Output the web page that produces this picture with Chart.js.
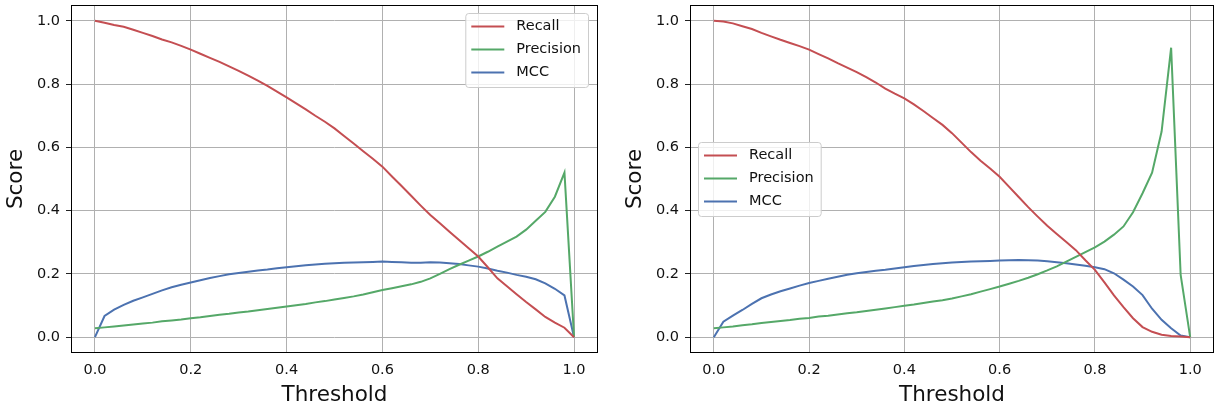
<!DOCTYPE html>
<html>
<head>
<meta charset="utf-8">
<script src="https://cdn.jsdelivr.net/npm/chart.js@4.4.0/dist/chart.umd.min.js"></script>
<style>
  html, body { margin: 0; padding: 0; background: #fff; }
  #wrap { position: relative; width: 1215px; height: 408px; }
  .box { position: absolute; top: 0; height: 408px; }
</style>
</head>
<body>
<div id="wrap">
  <div class="box" style="left:0;width:610px"><canvas id="left"></canvas></div>
  <div class="box" style="left:619px;width:596px"><canvas id="right"></canvas></div>
</div>
<script>
const thresholds = [0.00, 0.02, 0.04, 0.06, 0.08, 0.10, 0.12, 0.14, 0.16, 0.18,
  0.20, 0.22, 0.24, 0.26, 0.28, 0.30, 0.32, 0.34, 0.36, 0.38,
  0.40, 0.42, 0.44, 0.46, 0.48, 0.50, 0.52, 0.54, 0.56, 0.58,
  0.60, 0.62, 0.64, 0.66, 0.68, 0.70, 0.72, 0.74, 0.76, 0.78,
  0.80, 0.82, 0.84, 0.86, 0.88, 0.90, 0.92, 0.94, 0.96, 0.98, 1.00];

const tickValues = [0, 0.2, 0.4, 0.6, 0.8, 1.0];
const tickLabels = ['0.0', '0.2', '0.4', '0.6', '0.8', '1.0'];

// left panel
const recallA = [1.000, 0.994, 0.987, 0.981, 0.972, 0.962, 0.952, 0.941, 0.932, 0.921,
  0.909, 0.896, 0.883, 0.870, 0.856, 0.842, 0.827, 0.811, 0.794, 0.776,
  0.758, 0.739, 0.720, 0.700, 0.681, 0.660, 0.636, 0.612, 0.588, 0.564,
  0.539, 0.508, 0.478, 0.447, 0.416, 0.386, 0.360, 0.333, 0.307, 0.281,
  0.255, 0.221, 0.186, 0.161, 0.136, 0.111, 0.088, 0.064, 0.046, 0.030, 0.000];
const precisionA = [0.028, 0.031, 0.034, 0.037, 0.040, 0.043, 0.046, 0.050, 0.053, 0.056,
  0.060, 0.063, 0.067, 0.071, 0.074, 0.078, 0.081, 0.085, 0.089, 0.093,
  0.097, 0.101, 0.105, 0.110, 0.114, 0.119, 0.124, 0.129, 0.135, 0.142,
  0.149, 0.155, 0.161, 0.167, 0.175, 0.186, 0.200, 0.215, 0.229, 0.242,
  0.255, 0.270, 0.286, 0.302, 0.318, 0.340, 0.368, 0.396, 0.444, 0.520, 0.000];
const mccA = [0.000, 0.067, 0.087, 0.102, 0.115, 0.126, 0.137, 0.148, 0.158, 0.166,
  0.173, 0.180, 0.187, 0.193, 0.199, 0.203, 0.207, 0.211, 0.214, 0.218,
  0.221, 0.224, 0.227, 0.230, 0.232, 0.234, 0.235, 0.236, 0.237, 0.238,
  0.239, 0.238, 0.237, 0.235, 0.235, 0.237, 0.236, 0.234, 0.231, 0.227,
  0.223, 0.217, 0.210, 0.204, 0.197, 0.191, 0.183, 0.170, 0.153, 0.132, 0.000];

// right panel
const recallB = [1.000, 0.998, 0.992, 0.983, 0.974, 0.962, 0.951, 0.940, 0.930, 0.920,
  0.909, 0.895, 0.881, 0.866, 0.852, 0.838, 0.822, 0.805, 0.786, 0.770,
  0.755, 0.736, 0.715, 0.693, 0.671, 0.645, 0.615, 0.585, 0.558, 0.533,
  0.507, 0.475, 0.443, 0.411, 0.381, 0.352, 0.326, 0.301, 0.275, 0.243,
  0.213, 0.173, 0.132, 0.095, 0.060, 0.032, 0.017, 0.008, 0.004, 0.002, 0.000];
const precisionB = [0.028, 0.031, 0.034, 0.038, 0.041, 0.045, 0.048, 0.051, 0.054, 0.058,
  0.061, 0.065, 0.068, 0.072, 0.076, 0.079, 0.083, 0.087, 0.091, 0.095,
  0.099, 0.103, 0.108, 0.113, 0.117, 0.122, 0.129, 0.136, 0.144, 0.152,
  0.160, 0.169, 0.178, 0.188, 0.199, 0.211, 0.224, 0.239, 0.254, 0.269,
  0.284, 0.302, 0.324, 0.350, 0.395, 0.455, 0.520, 0.650, 0.915, 0.197, 0.000];
const mccB = [0.000, 0.049, 0.068, 0.086, 0.105, 0.123, 0.135, 0.145, 0.154, 0.163,
  0.171, 0.178, 0.185, 0.191, 0.197, 0.202, 0.206, 0.210, 0.213, 0.217,
  0.221, 0.225, 0.228, 0.231, 0.234, 0.236, 0.238, 0.239, 0.240, 0.241,
  0.242, 0.243, 0.244, 0.243, 0.242, 0.240, 0.237, 0.234, 0.230, 0.226,
  0.221, 0.215, 0.202, 0.182, 0.160, 0.133, 0.090, 0.055, 0.028, 0.005, 0.000];

const RED = '#C44E52', GREEN = '#55A868', BLUE = '#4C72B0';
const FONT = '"DejaVu Sans", sans-serif';

Chart.defaults.font.family = FONT;
Chart.defaults.color = '#111';

// all four spines
const axesFrame = {
  id: 'axesFrame',
  afterDatasetsDraw(chart) {
    const { ctx, chartArea: a } = chart;
    ctx.save();
    ctx.strokeStyle = '#000';
    ctx.lineWidth = 1;
    ctx.strokeRect(Math.round(a.left) + 0.5, Math.round(a.top) + 0.5,
      Math.round(a.right - a.left) - 1, Math.round(a.bottom - a.top) - 1);
    ctx.restore();
  }
};

// legend box drawn inside the axes
const boxLegend = {
  id: 'boxLegend',
  afterDraw(chart, args, opts) {
    const { ctx, chartArea: a } = chart;
    const sets = chart.data.datasets;
    ctx.save();
    ctx.font = '14.5px ' + FONT;
    const textW = Math.max(...sets.map(d => ctx.measureText(d.label).width));
    const w = 51 + textW + 7, h = 74;
    let x, y;
    if (opts.loc === 'upper right') {
      x = a.right - 10 - w; y = a.top + 8;
    } else {
      x = a.left + 8; y = (a.top + a.bottom) / 2 - h / 2;
    }
    ctx.beginPath();
    ctx.roundRect(x + 0.5, y + 0.5, w, h, 3);
    ctx.fillStyle = 'rgba(255,255,255,0.8)';
    ctx.fill();
    ctx.strokeStyle = '#cccccc';
    ctx.lineWidth = 1;
    ctx.stroke();
    sets.forEach((d, i) => {
      const ry = y + 13.5 + i * 23;
      ctx.beginPath();
      ctx.moveTo(x + 6, ry);
      ctx.lineTo(x + 39, ry);
      ctx.strokeStyle = d.borderColor;
      ctx.lineWidth = 2;
      ctx.stroke();
      ctx.fillStyle = '#111';
      ctx.textBaseline = 'middle';
      ctx.fillText(d.label, x + 51, ry);
    });
    ctx.restore();
  }
};

function points(vals) {
  return thresholds.map((t, i) => ({ x: t, y: vals[i] }));
}

function makeChart(id, recall, precision, mcc, loc, padRight) {
  const axis = (title, isX) => ({
    type: 'linear',
    min: -0.05,
    max: 1.05,
    afterBuildTicks: s => { s.ticks = tickValues.map(v => ({ value: v })); },
    afterFit: s => {
      if (isX) s.height = 55; else s.width = 71;
      s.paddingTop = 0; s.paddingBottom = 0;
      s.paddingLeft = 0; s.paddingRight = 0;
    },
    ticks: {
      callback: (v, i) => tickLabels[i],
      font: { size: 14.5 },
      padding: isX ? 9 : 6,
      maxRotation: 0,
      autoSkip: false
    },
    grid: { color: '#b0b0b0', tickColor: '#222', tickLength: 5, drawTicks: !isX },
    border: { display: false },
    title: {
      display: true,
      text: title,
      font: { size: 21.5 },
      padding: isX ? { top: 0, bottom: 0 } : { top: 4, bottom: 0 }
    }
  });

  return new Chart(document.getElementById(id), {
    type: 'line',
    data: {
      datasets: [
        { label: 'Recall', data: points(recall), borderColor: RED },
        { label: 'Precision', data: points(precision), borderColor: GREEN },
        { label: 'MCC', data: points(mcc), borderColor: BLUE }
      ]
    },
    options: {
      responsive: true,
      maintainAspectRatio: false,
      animation: false,
      layout: { padding: { top: 5, right: padRight, left: 0, bottom: 0 } },
      elements: {
        point: { radius: 0 },
        line: { borderWidth: 2, tension: 0, fill: false }
      },
      plugins: {
        legend: { display: false },
        tooltip: { enabled: false },
        boxLegend: { loc: loc }
      },
      scales: {
        x: axis('Threshold', true),
        y: axis('Score', false)
      }
    },
    plugins: [axesFrame, boxLegend]
  });
}

makeChart('left', recallA, precisionA, mccA, 'upper right', 12);
makeChart('right', recallB, precisionB, mccB, 'center left', 1);
</script>
</body>
</html>
